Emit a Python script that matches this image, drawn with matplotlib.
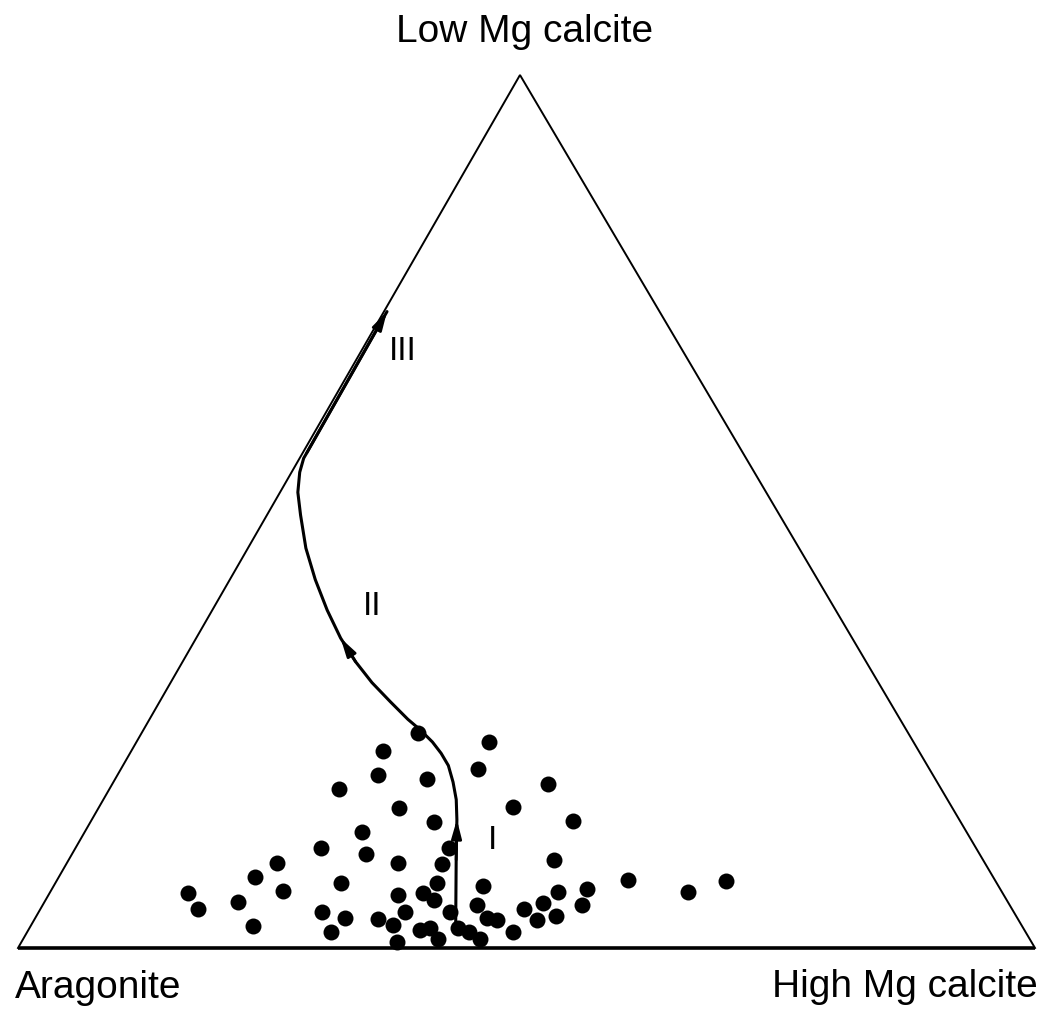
import matplotlib.pyplot as plt

# sample compositions, % Low Mg calcite and % High Mg calcite (rest is aragonite)
lmc = [24.6, 22.6, 19.8, 19.4, 18.2, 16.0, 14.4, 13.3, 11.5, 10.8,
       9.7, 11.5, 9.6, 9.7, 8.1, 7.4, 6.3, 6.5, 7.4, 6.3,
       5.5, 6.1, 4.5, 5.3, 4.1, 4.1, 3.4, 3.3, 4.1, 2.5,
       2.6, 1.8, 2.1, 2.3, 1.0, 0.7, 2.3, 23.6, 20.5, 18.8,
       16.2, 14.6, 10.1, 7.8, 7.7, 6.4, 7.1, 6.8, 6.4, 4.9,
       5.2, 4.5, 4.9, 3.4, 3.2, 3.2, 3.7, 1.8, 1.0, 1.8]
hmc = [27.2, 24.7, 25.6, 30.6, 22.6, 29.6, 33.8, 27.3, 24.1, 28.9,
       32.6, 36.7, 37.0, 20.7, 19.3, 28.1, 13.6, 22.8, 37.5, 36.7,
       38.2, 34.4, 15.5, 19.0, 36.0, 27.9, 30.5, 33.8, 40.5, 21.9,
       35.6, 29.9, 38.5, 39.4, 40.8, 36.9, 42.1, 34.7, 35.1, 42.8,
       40.7, 47.4, 47.7, 56.1, 65.8, 62.7, 42.2, 52.6, 49.9, 42.7,
       49.1, 47.5, 53.0, 44.4, 45.5, 49.5, 51.1, 43.5, 44.9, 47.8]

# diagenetic trend I -> II -> III
path_lmc = [2.3, 10.1, 14.7, 17.0, 19.0, 20.9, 22.3, 23.6, 25.0, 26.2,
            28.2, 30.4, 32.8, 35.5, 38.7, 42.2, 45.8, 49.6, 52.2, 54.5,
            56.1, 56.7, 72.9]
path_hmc = [41.9, 38.1, 35.9, 34.7, 33.4, 32.0, 30.6, 29.1, 27.2, 25.4,
            22.7, 19.8, 17.0, 14.2, 11.3, 8.4, 5.7, 3.3, 1.75, 0.8,
            0.4, 0.4, 0.3]

stages = ["I", "II", "III"]
stage_lmc = [12.3, 39.1, 68.3]
stage_hmc = [40.6, 15.5, 4.1]

corners = ["Aragonite", "High Mg calcite", "Low Mg calcite"]

# apex of the drawn triangle (base runs 0..1)
CX, CY = 0.4936, 0.8584


def tern(l, h):
    l = [v / 100 for v in l]
    h = [v / 100 for v in h]
    x = [b + CX * c for b, c in zip(h, l)]
    y = [CY * c for c in l]
    return x, y


fig = plt.figure(figsize=(10.45, 10.11), dpi=100)
ax = fig.add_axes([0, 0, 1, 1])
ax.set_xlim(-18 / 1017, 1027 / 1017)
ax.set_ylim(-63 / 1017, 948 / 1017)
ax.axis("off")

# triangle
ax.plot([0, CX, 1], [0, CY, 0], color="black", linewidth=1.4, solid_joinstyle="miter")
ax.plot([0, 1], [0, 0], color="black", linewidth=2.6, solid_capstyle="butt")

# samples
px, py = tern(lmc, hmc)
ax.plot(px, py, "o", color="black", markersize=11.5, markeredgewidth=0)

# trend path
tx, ty = tern(path_lmc, path_hmc)
ax.plot(tx, ty, color="black", linewidth=2.2, solid_capstyle="round",
        solid_joinstyle="round")
for i in [2, 13, len(tx) - 1]:
    ax.annotate("", xy=(tx[i], ty[i]), xytext=(tx[i - 1], ty[i - 1]),
                arrowprops=dict(arrowstyle="-|>,head_length=0.55,head_width=0.15",
                                color="black", lw=2.0, shrinkA=0, shrinkB=0,
                                mutation_scale=20))

sx, sy = tern(stage_lmc, stage_hmc)
for s, x, y in zip(stages, sx, sy):
    ax.text(x, y, s, fontsize=24, family="Liberation Sans",
            ha="center", va="center", fontweight="light")

font = dict(fontsize=28, family="Liberation Sans", va="baseline")
ax.annotate(corners[0], xy=(0, 0), xytext=(-3, -50), textcoords="offset pixels",
            ha="left", **font)
ax.annotate(corners[1], xy=(1, 0), xytext=(3, -49), textcoords="offset pixels",
            ha="right", **font)
ax.annotate(corners[2], xy=(CX, CY), xytext=(5, 33), textcoords="offset pixels",
            ha="center", **font)

plt.savefig("out.png", dpi=100, facecolor="white")
